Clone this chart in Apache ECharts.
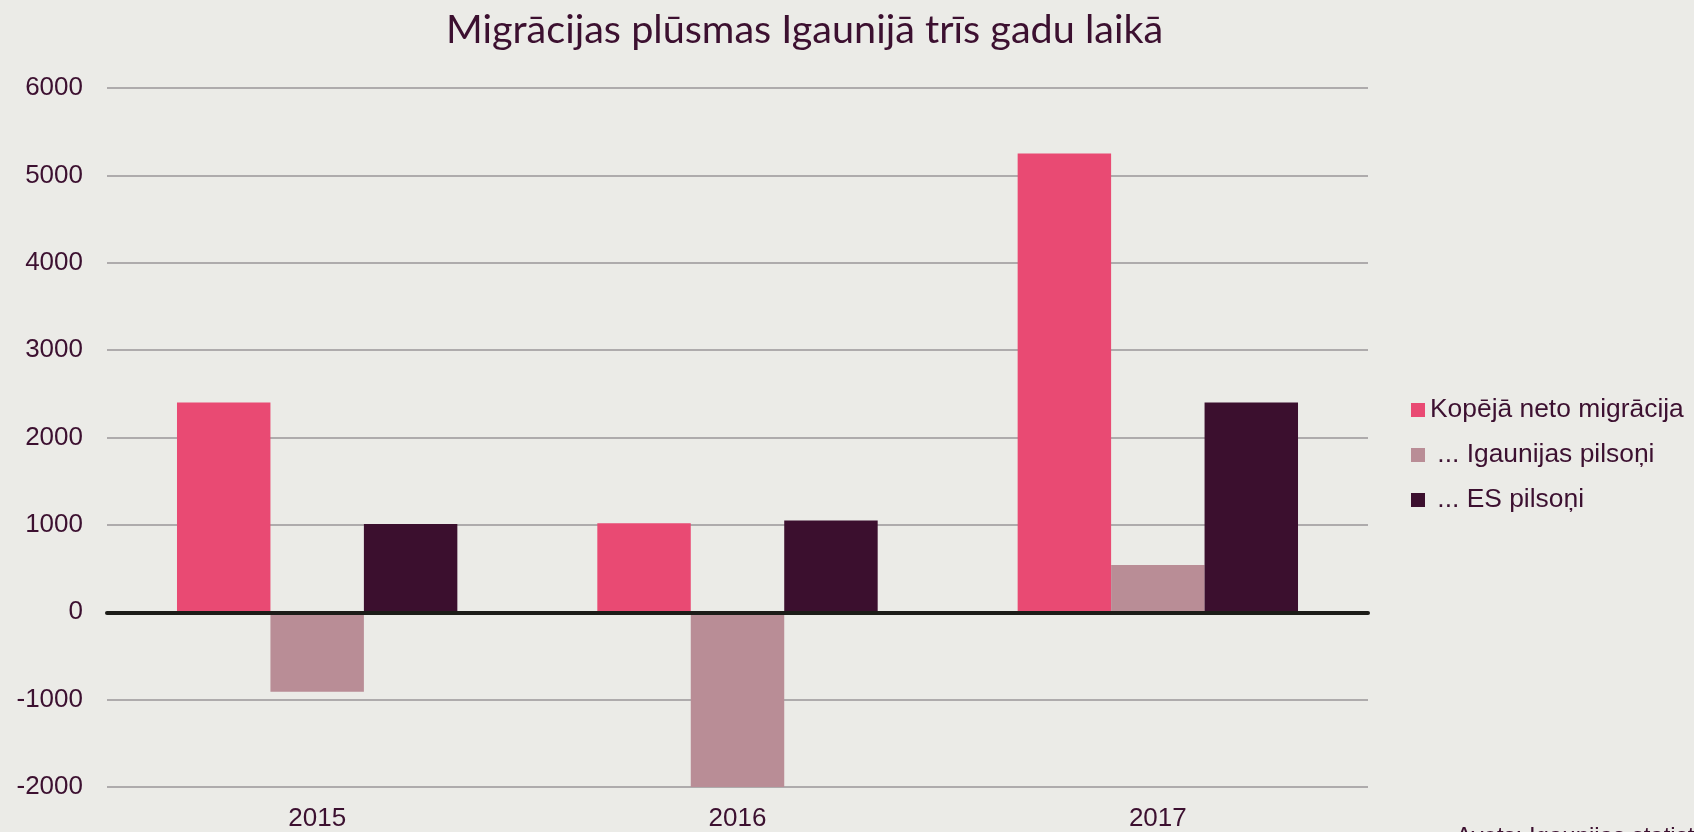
<!DOCTYPE html>
<html>
<head>
<meta charset="utf-8">
<title>Migrācijas plūsmas Igaunijā</title>
<script src="https://cdn.jsdelivr.net/npm/echarts@6/dist/echarts.min.js"></script>
<style>
  html, body { margin: 0; padding: 0; background: #ebebe7; }
  #box { width: 1694px; height: 832px; }
</style>
</head>
<body>
<div id="box"></div>
<script>
// gadi
var years = ['2015', '2016', '2017']
// sēriju nosaukumi
var seriesNames = ['Kopējā neto migrācija', ' ... Igaunijas pilsoņi', ' ... ES pilsoņi']
// vērtības
var totalNet = [2400, 1020, 5250]
var estCitizens = [-910, -2010, 540]
var euCitizens = [1010, 1050, 2400]
// y ass
var yMin = -2000
var yMax = 6000
var yStep = 1000

var textColor = '#3c1030'
var colors = ['#e94a73', '#b98d96', '#3b0f2e']

var myChart = echarts.init(document.getElementById('box'))

myChart.setOption({
  backgroundColor: '#ebebe7',
  color: colors,
  animation: false,
  title: {
    text: 'Migrācijas plūsmas Igaunijā trīs gadu laikā',
    left: 441,
    top: 5,
    textStyle: {
      fontFamily: 'Lato',
      fontWeight: 'normal',
      fontSize: 39.6,
      color: textColor
    }
  },
  legend: {
    orient: 'vertical',
    left: 1406,
    top: 392,
    icon: 'rect',
    itemWidth: 14,
    itemHeight: 14,
    itemGap: 19,
    data: seriesNames,
    textStyle: {
      fontFamily: 'Liberation Sans',
      fontSize: 26.4,
      lineHeight: 26,
      color: textColor
    }
  },
  grid: { left: 107, right: 326, top: 88, bottom: 45, containLabel: false },
  xAxis: {
    type: 'category',
    data: years,
    z: 5,
    axisTick: { show: false },
    axisLine: { lineStyle: { color: '#1c1c18', width: 4 } },
    axisLabel: {
      margin: 19,
      fontFamily: 'Liberation Sans',
      fontSize: 26,
      color: textColor
    }
  },
  yAxis: {
    type: 'value',
    min: yMin,
    max: yMax,
    interval: yStep,
    axisLine: { show: false },
    axisTick: { show: false },
    splitLine: { lineStyle: { color: '#9a9698', width: 1.5 } },
    axisLabel: {
      margin: 24,
      fontFamily: 'Liberation Sans',
      fontSize: 26,
      color: textColor,
      formatter: function (v) { return String(v) }
    }
  },
  graphic: [{
    type: 'text',
    left: 1456,
    top: 825,
    style: {
      text: 'Avots: Igaunijas statistika',
      fontFamily: 'Liberation Sans',
      fontSize: 24,
      fill: textColor
    }
  }],
  series: [
    { name: seriesNames[0], type: 'bar', data: totalNet, barGap: '0%', barCategoryGap: '33.3%' },
    { name: seriesNames[1], type: 'bar', data: estCitizens, barGap: '0%', barCategoryGap: '33.3%' },
    { name: seriesNames[2], type: 'bar', data: euCitizens, barGap: '0%', barCategoryGap: '33.3%' }
  ]
})
</script>
</body>
</html>
